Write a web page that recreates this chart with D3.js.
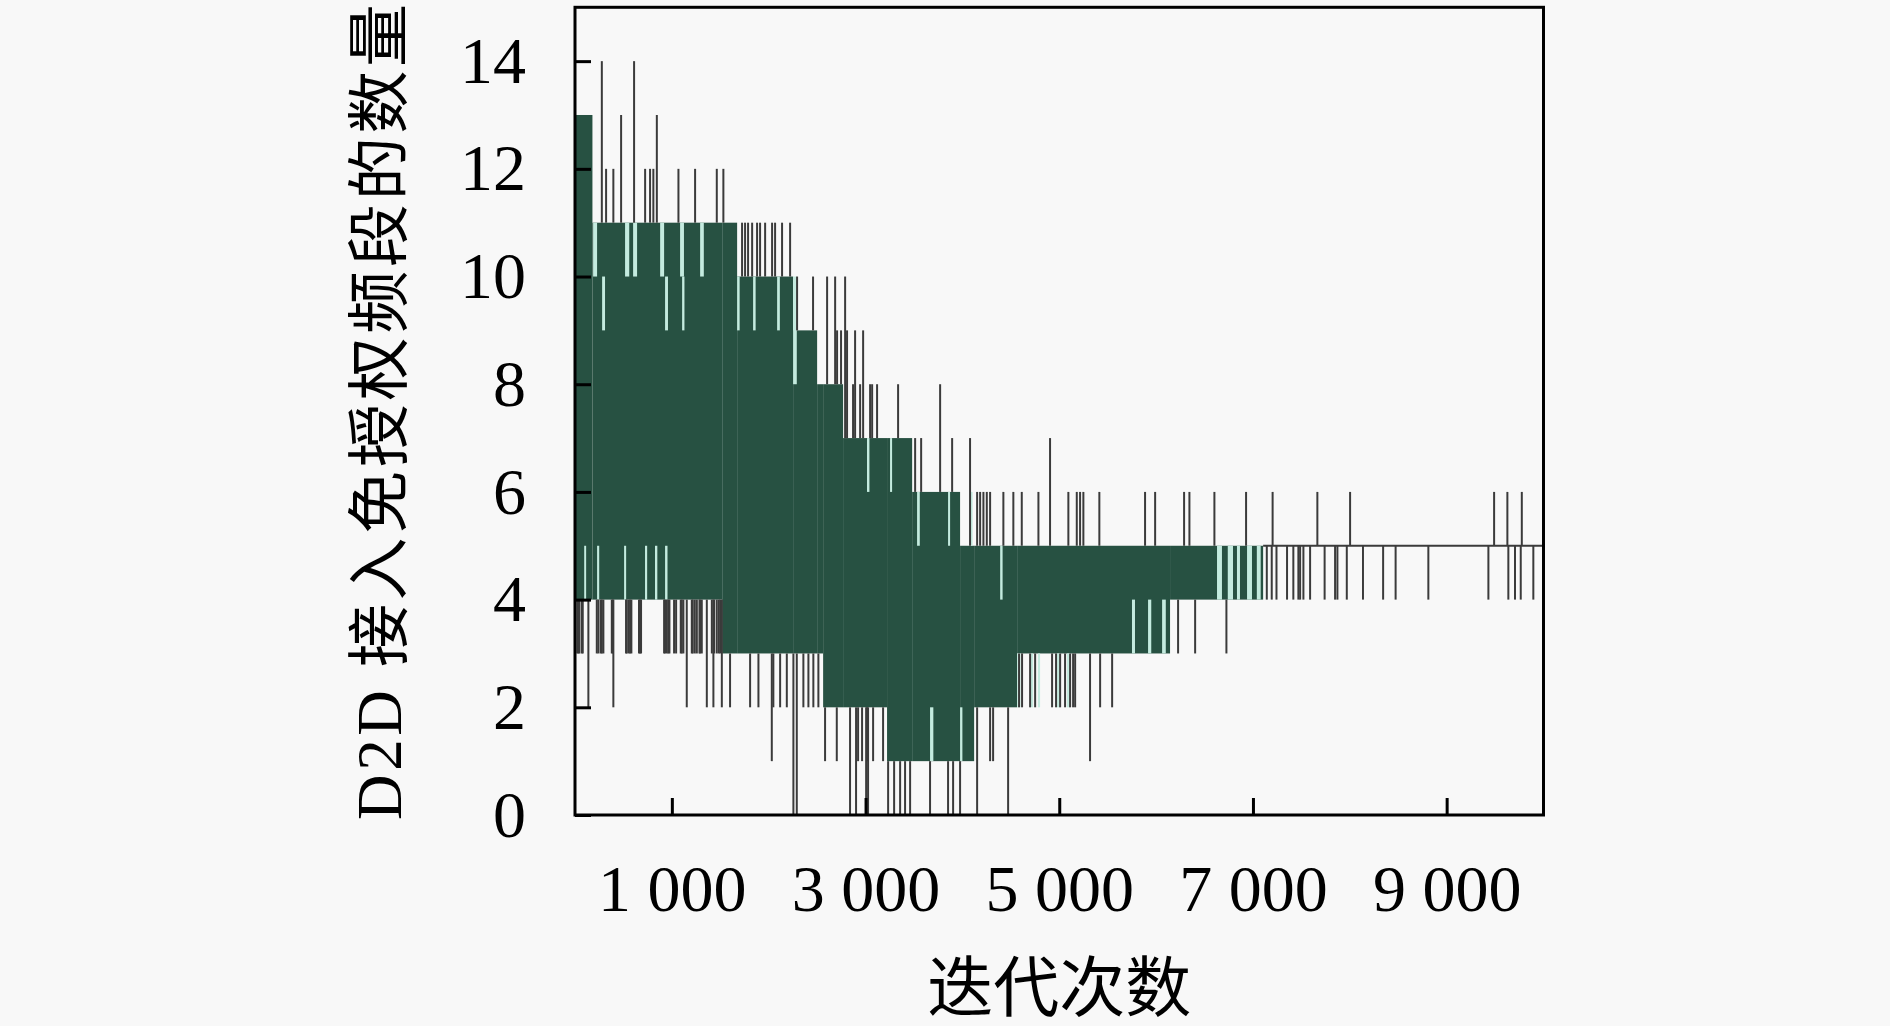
<!DOCTYPE html>
<html>
<head>
<meta charset="utf-8">
<script src="https://cdn.jsdelivr.net/npm/d3@7/dist/d3.min.js"></script>
<style>
  body { margin: 0; background: #f8f8f8; }
</style>
</head>
<body>
<script>
// solid runs where the trace swings so fast it fills in: [from iter, to iter, low, high]
var bands = [
  [0, 180, 4, 13], [180, 1520, 4, 11], [1520, 1674, 3, 11], [1674, 2252, 3, 10],
  [2252, 2500, 3, 9], [2500, 2562, 3, 8], [2562, 2768, 2, 8], [2768, 3222, 2, 7],
  [3222, 3481, 1, 7], [3481, 3976, 1, 6], [3976, 4121, 1, 5], [4121, 4565, 2, 5],
  [4565, 6144, 3, 5], [6144, 7105, 4, 5]
];
// thin light streaks inside the runs where the trace skipped: [from iter, to iter, low, high]
var gaps = [
  [187, 228, 10, 11], [517, 560, 10, 11], [600, 641, 10, 11], [879, 920, 10, 11],
  [1085, 1125, 10, 11], [1292, 1330, 10, 11],
  [280, 310, 9, 10], [930, 960, 9, 10], [1106, 1130, 9, 10], [1674, 1700, 9, 10],
  [1839, 1865, 9, 10], [2087, 2115, 9, 10], [2252, 2290, 8, 10],
  [95, 115, 4, 5], [228, 250, 4, 5], [507, 528, 4, 5], [723, 745, 4, 5],
  [826, 850, 4, 5], [930, 955, 4, 5],
  [3015, 3040, 6, 7], [3253, 3274, 6, 7], [3532, 3560, 5, 6],
  [3852, 3873, 5, 6], [4079, 4105, 5, 6],
  [3666, 3700, 1, 2], [3976, 4000, 1, 2],
  [4565, 4600, 2, 3], [4699, 4730, 2, 3], [4780, 4802, 2, 3], [4978, 5010, 2, 3], [5080, 5112, 2, 3],
  [5751, 5782, 3, 4], [5917, 5950, 3, 4], [6062, 6100, 3, 4],
  [4390, 4415, 4, 5], [6629, 6680, 4, 5], [6740, 6794, 4, 5], [6835, 6866, 4, 5],
  [6939, 6990, 4, 5], [7040, 7080, 4, 5]
];
// settled tail: [from iter, to iter, value]
var tail = [7105, 10000, 5];
// single excursions above the band: [iter, from, to]
var upSpikes = [
  [277, 11, 14], [610, 11, 14], [476, 11, 13], [845, 11, 13],
  [321, 11, 12], [396, 11, 12], [724, 11, 12], [775, 11, 12], [809, 11, 12],
  [1068, 11, 12], [1240, 11, 12], [1464, 11, 12], [1532, 11, 12],
  [1725, 10, 11], [1756, 10, 11], [1787, 10, 11], [1829, 10, 11], [1880, 10, 11],
  [1911, 10, 11], [1963, 10, 11], [2035, 10, 11], [2066, 10, 11], [2138, 10, 11], [2221, 10, 11],
  [2293, 9, 10], [2458, 9, 10], [2603, 8, 10], [2686, 8, 10], [2706, 8, 9], [2747, 8, 9],
  [2789, 7, 10], [2809, 7, 9], [2892, 7, 9], [2975, 7, 9],
  [2871, 7, 8], [2944, 7, 8], [3047, 7, 8], [3068, 7, 8], [3119, 7, 8], [3336, 7, 8],
  [3770, 6, 8], [3512, 6, 7], [3574, 6, 7], [3894, 6, 7],
  [4079, 5, 7], [4905, 5, 7],
  [4152, 5, 6], [4183, 5, 6], [4217, 5, 6], [4252, 5, 6], [4286, 5, 6], [4423, 5, 6],
  [4526, 5, 6], [4613, 5, 6], [4785, 5, 6], [5094, 5, 6], [5181, 5, 6], [5215, 5, 6],
  [5249, 5, 6], [5414, 5, 6], [5886, 5, 6], [5990, 5, 6], [6289, 5, 6], [6344, 5, 6],
  [6602, 5, 6], [6929, 5, 6], [7203, 5, 6], [7665, 5, 6], [8003, 5, 6], [9490, 5, 6],
  [9627, 5, 6], [9776, 5, 6]
];
// single excursions below the band: [iter, from, to]
var downSpikes = [
  [24, 4, 3], [35, 4, 3], [45, 4, 3], [70, 4, 3], [80, 4, 3], [225, 4, 3], [242, 4, 3],
  [266, 4, 3], [277, 4, 3], [293, 4, 3], [380, 4, 3], [390, 4, 3], [527, 4, 3], [535, 4, 3],
  [555, 4, 3], [569, 4, 3], [582, 4, 3], [661, 4, 3], [672, 4, 3], [682, 4, 3],
  [920, 4, 3], [930, 4, 3], [948, 4, 3], [964, 4, 3], [975, 4, 3], [1023, 4, 3], [1044, 4, 3],
  [1092, 4, 3], [1103, 4, 3], [1119, 4, 3], [1206, 4, 3], [1216, 4, 3], [1237, 4, 3],
  [1258, 4, 3], [1285, 4, 3], [1292, 4, 3], [1309, 4, 3], [1413, 4, 3], [1437, 4, 3],
  [1464, 4, 3], [1485, 4, 3], [1500, 4, 3],
  [138, 4, 2], [396, 4, 2], [1154, 4, 2], [1361, 4, 2], [1429, 4, 2], [1516, 4, 2],
  [1601, 3, 2], [1808, 3, 2], [1894, 3, 2],
  [2048, 3, 2], [2118, 3, 2], [2187, 3, 2], [2358, 3, 2], [2410, 3, 2], [2461, 3, 2], [2513, 3, 2],
  [2032, 3, 1], [2255, 3, 0], [2290, 3, 0],
  [2582, 2, 1], [2703, 2, 1], [2923, 2, 1], [2964, 2, 1], [3016, 2, 1], [3078, 2, 1], [3181, 2, 1],
  [2840, 2, 0], [2902, 2, 0], [3006, 2, 0], [3026, 2, 0],
  [3233, 1, 0], [3295, 1, 0], [3357, 1, 0], [3408, 1, 0], [3460, 1, 0], [3666, 1, 0],
  [3852, 1, 0], [3904, 1, 0], [3976, 1, 0],
  [4152, 2, 0], [4472, 2, 0], [4286, 2, 1], [4317, 2, 1], [5318, 3, 1],
  [4585, 3, 2], [4616, 3, 2], [4699, 3, 2], [4751, 3, 2], [4926, 3, 2], [4967, 3, 2],
  [5009, 3, 2], [5060, 3, 2], [5112, 3, 2], [5143, 3, 2], [5164, 3, 2], [5422, 3, 2], [5546, 3, 2],
  [6227, 4, 3], [6403, 4, 3], [6726, 4, 3],
  [7143, 5, 4], [7194, 5, 4], [7243, 5, 4], [7352, 5, 4], [7417, 5, 4], [7469, 5, 4],
  [7487, 5, 4], [7521, 5, 4], [7590, 5, 4], [7740, 5, 4], [7848, 5, 4], [7872, 5, 4],
  [7969, 5, 4], [8136, 5, 4], [8344, 5, 4], [8473, 5, 4], [8811, 5, 4], [9431, 5, 4],
  [9637, 5, 4], [9706, 5, 4], [9765, 5, 4], [9895, 5, 4]
];
var xTicks = [1000, 3000, 5000, 7000, 9000];
var xTickLabels = ['1 000', '3 000', '5 000', '7 000', '9 000'];
var yTicks = [0, 2, 4, 6, 8, 10, 12, 14];
var xTitle = '迭代次数';
var yTitle = 'D2D 接入免授权频段的数量';

var W = 1890, H = 1026;
var plot = {left: 575, right: 1543.5, top: 7.3, bottom: 815};
var green = '#275142', grey = '#3b3b3b', streak = '#c4ebdf';
var serif = '"Liberation Serif", "DejaVu Serif", serif';
var cjk = '"Liberation Serif", "Noto Sans CJK SC", serif';

var svg = d3.select('body').append('svg')
  .attr('width', W)
  .attr('height', H);

var x = d3.scaleLinear().domain([0, 10000]).range([plot.left, plot.right]);
var y = d3.scaleLinear().domain([0, 15]).range([plot.bottom, plot.top]);

function runRects(g, data, fill) {
  g.selectAll('rect')
    .data(data)
    .enter()
    .append('rect')
    .attr('x', function(d) { return x(d[0]); })
    .attr('width', function(d) { return Math.max(1.5, x(d[1]) - x(d[0])); })
    .attr('y', function(d) { return y(d[3]); })
    .attr('height', function(d) { return y(d[2]) - y(d[3]); })
    .attr('fill', fill);
}

// filled runs, then the skipped streaks on top
runRects(svg.append('g'), bands, green);
runRects(svg.append('g'), gaps, streak);

// tail
svg.append('line')
  .attr('x1', x(tail[0])).attr('x2', x(tail[1]))
  .attr('y1', y(tail[2])).attr('y2', y(tail[2]))
  .attr('stroke', grey)
  .attr('stroke-width', 2);

// spikes
svg.append('g').selectAll('line')
  .data(upSpikes.concat(downSpikes))
  .enter()
  .append('line')
  .attr('x1', function(d) { return x(d[0]); })
  .attr('x2', function(d) { return x(d[0]); })
  .attr('y1', function(d) { return y(d[1]); })
  .attr('y2', function(d) { return y(d[2]); })
  .attr('stroke', grey)
  .attr('stroke-width', 2);

// axes, ticks pointing inward
var yAxis = d3.axisLeft(y).tickValues(yTicks).tickSize(-16).tickPadding(49);
var xAxis = d3.axisBottom(x).tickValues(xTicks).tickSize(-17).tickPadding(49)
  .tickFormat(function(d, i) { return xTickLabels[i]; });

var gy = svg.append('g')
  .attr('transform', 'translate(' + plot.left + ',0)')
  .call(yAxis);
var gx = svg.append('g')
  .attr('transform', 'translate(0,' + plot.bottom + ')')
  .call(xAxis);

[gx, gy].forEach(function(g) {
  g.select('.domain').remove();
  g.attr('font-size', 66).attr('font-family', serif);
  g.selectAll('.tick line').attr('stroke', '#000').attr('stroke-width', 3);
  g.selectAll('.tick text').attr('fill', '#000');
});

// frame
svg.append('rect')
  .attr('x', x(0))
  .attr('y', y(15))
  .attr('width', x(10000) - x(0))
  .attr('height', y(0) - y(15))
  .attr('fill', 'none')
  .attr('stroke', '#000')
  .attr('stroke-width', 3);

svg.append('text')
  .text(xTitle)
  .attr('x', (plot.left + plot.right) / 2)
  .attr('y', 1011)
  .attr('text-anchor', 'middle')
  .attr('font-family', cjk)
  .attr('font-size', 66);

svg.append('text')
  .text(yTitle)
  .attr('transform', 'translate(401,820) rotate(-90)')
  .attr('text-anchor', 'start')
  .attr('font-family', cjk)
  .attr('font-size', 63)
  .attr('textLength', 816)
  .attr('lengthAdjust', 'spacing');
</script>
</body>
</html>
